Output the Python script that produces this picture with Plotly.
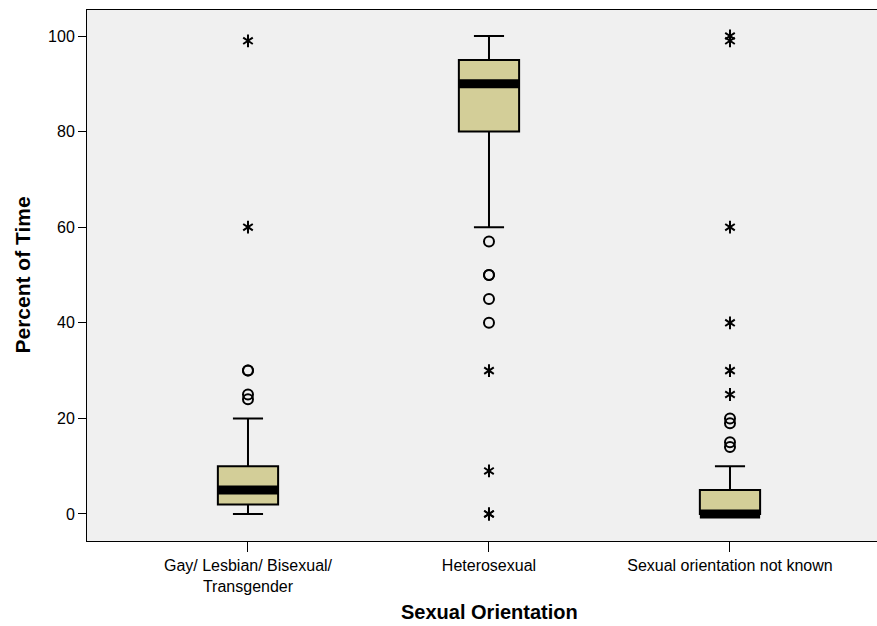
import plotly.graph_objects as go

# Groups on the category axis
categories = ["Gay/ Lesbian/ Bisexual/<br>Transgender", "Heterosexual", "Sexual orientation not known"]

# Box summary (percent of time)
q1 = [2, 80, 0]
median = [5, 90, 0]
q3 = [10, 95, 5]
lower_whisker = [0, 60, 0]
upper_whisker = [20, 100, 10]

# Outliers (circles) and extreme values (stars) per group
outliers = [
    [30, 30, 25, 24],
    [57, 50, 50, 45, 40],
    [20, 19, 15, 14],
]
extremes = [
    [60, 99],
    [30, 9, 0, 0],
    [25, 30, 40, 60, 99, 100],
]

y_ticks = [0, 20, 40, 60, 80, 100]

BOX_WIDTH = 0.25
FILL = "#D3CE98"
FONT = "Liberation Sans, Arial, sans-serif"

positions = list(range(len(categories)))

fig = go.Figure()

fig.add_trace(go.Box(
    x=positions,
    q1=q1, median=median, q3=q3,
    lowerfence=lower_whisker, upperfence=upper_whisker,
    width=BOX_WIDTH,
    whiskerwidth=0.5,
    fillcolor=FILL,
    line=dict(color="black", width=2),
    boxpoints=False,
    hoverinfo="skip",
    showlegend=False,
))

# Thick median bars
for p, m in zip(positions, median):
    fig.add_trace(go.Scatter(
        x=[p - BOX_WIDTH / 2, p + BOX_WIDTH / 2], y=[m, m],
        mode="lines", line=dict(color="black", width=9),
        hoverinfo="skip", showlegend=False,
    ))

# Outlier circles
ox, oy = [], []
for p, vals in zip(positions, outliers):
    ox += [p] * len(vals)
    oy += vals
fig.add_trace(go.Scatter(
    x=ox, y=oy, mode="markers",
    marker=dict(symbol="circle-open", size=10, color="black", line=dict(width=2)),
    hoverinfo="skip", showlegend=False,
))

# Extreme-value asterisks, built from two overlapping Y glyphs
ex, ey = [], []
for p, vals in zip(positions, extremes):
    ex += [p] * len(vals)
    ey += vals
for sym in ["y-up-open", "y-down-open"]:
    fig.add_trace(go.Scatter(
        x=ex, y=ey, mode="markers",
        marker=dict(symbol=sym, size=8, color="black", line=dict(width=2, color="black")),
        hoverinfo="skip", showlegend=False,
    ))

fig.update_layout(
    width=877, height=626,
    margin=dict(l=87, r=0, t=10, b=85),
    paper_bgcolor="white",
    plot_bgcolor="#F0F0F0",
    font=dict(family=FONT, size=16, color="black"),
    xaxis=dict(
        range=[-0.668, 2.61],
        tickmode="array", tickvals=positions, ticktext=categories,
        ticks="outside", ticklen=10, tickwidth=1, tickcolor="black",
        showline=True, linecolor="black", linewidth=1, mirror=True,
        showgrid=False, zeroline=False,
        tickfont=dict(size=16),
    ),
    yaxis=dict(
        range=[-5.65, 105.44],
        tickmode="array", tickvals=y_ticks,
        ticks="outside", ticklen=8, tickwidth=1, tickcolor="black",
        showline=True, linecolor="black", linewidth=1,
        showgrid=False, zeroline=False,
        tickfont=dict(size=16),
    ),
    annotations=[
        dict(text="<b>Sexual Orientation</b>", xref="paper", yref="paper",
             x=0.51, y=0, yshift=-71, xanchor="center", yanchor="middle",
             showarrow=False, font=dict(size=20)),
        dict(text="<b>Percent of Time</b>", xref="paper", yref="paper",
             x=0, xshift=-65, y=0.5, xanchor="center", yanchor="middle",
             textangle=-90, showarrow=False, font=dict(size=21)),
    ],
)

fig.write_html("out.html")
